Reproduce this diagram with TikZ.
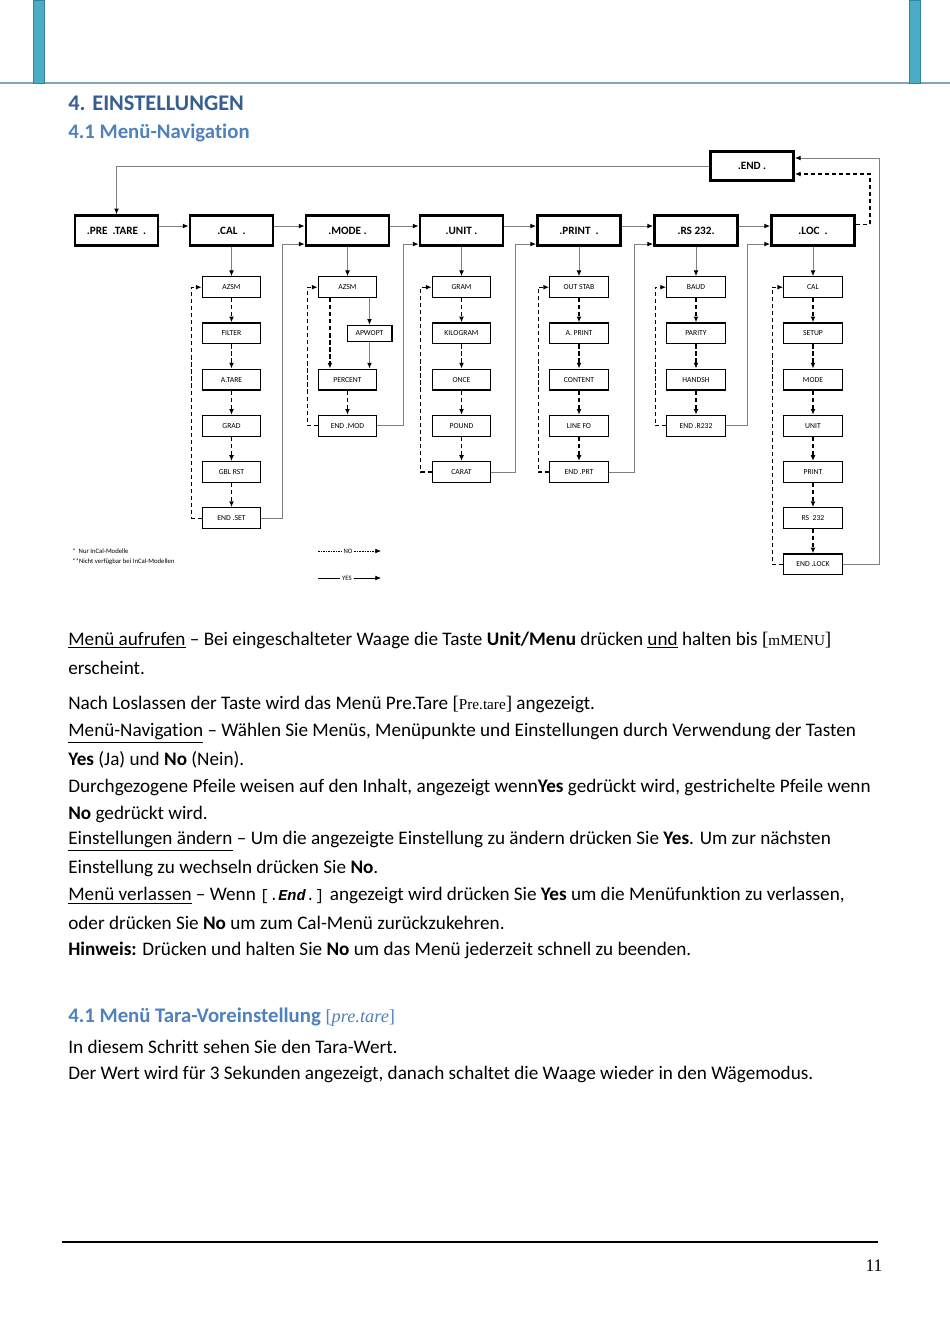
\documentclass[tikz,border=0pt]{standalone}
\usepackage{fontspec}
\setmainfont{Carlito}[Ligatures={TeX,NoCommon}]
\newfontfamily\anzeigefont{Liberation Serif}
\newfontfamily\lcdfont{Liberation Mono}
\usetikzlibrary{arrows.meta,positioning}
\definecolor{titelblau}{HTML}{365F91}
\definecolor{unterblau}{HTML}{4F81BD}
\definecolor{balken}{HTML}{4BACC6}
\definecolor{balkenrand}{HTML}{31849B}
\definecolor{kopflinie}{HTML}{7FA6BA}

\begin{document}
\begin{tikzpicture}[x=0.626pt, y=-0.626pt, >={Latex[length=3.6pt,width=3pt,color=black]},
    hauptbox/.style={draw, line width=1.7pt, minimum width=52pt, minimum height=18.5pt, inner sep=0pt, font=\fontsize{7}{8}\selectfont\bfseries},
    unterbox/.style={draw, line width=0.8pt, minimum width=36.5pt, minimum height=13pt, inner sep=0pt, font=\fontsize{4.8}{5}\selectfont},
    ja/.style={->, draw=black!50, line width=0.6pt},
    nein/.style={->, line width=0.8pt, dash pattern=on 2.6pt off 1.8pt},
    zeile/.style={anchor=west, inner sep=0pt, font=\fontsize{12}{14}\selectfont},
    klein/.style={anchor=west, inner sep=0pt, font=\fontsize{4.2}{5}\selectfont}]
    \useasboundingbox (0,0) rectangle (950,1344);

    % Kopfzeile
    \draw[kopflinie, line width=1.2pt] (0,83) -- (950,83);
    \draw[balkenrand, fill=balken, line width=0.6pt] (33,0) rectangle (44,83);
    \draw[balkenrand, fill=balken, line width=0.6pt] (909,0) rectangle (920,83);

    % Titel
    \node[anchor=west, inner sep=0pt, font=\fontsize{14}{16}\selectfont\bfseries, text=titelblau] (titel) at (68,103) {4. EINSTELLUNGEN};
    \node[anchor=west, inner sep=0pt, font=\fontsize{13}{15}\selectfont\bfseries, text=unterblau] (navi) at (68,133) {4.1 Menü-Navigation};

    % Hauptmenüs
    \node[hauptbox] (pretare) at (116.5,230.5) {.PRE\ \ .TARE\ \ .};
    \node[hauptbox] (cal) at (231.5,230.5) {.CAL\ \ .};
    \node[hauptbox] (mode) at (347.5,230.5) {.MODE .};
    \node[hauptbox] (unit) at (461.5,230.5) {.UNIT .};
    \node[hauptbox] (print) at (579,230.5) {.PRINT\ \ .};
    \node[hauptbox] (rs) at (696,230.5) {.RS 232.};
    \node[hauptbox] (loc) at (813,230.5) {.LOC\ \ .};
    \node[hauptbox] (ende) at (752,166) {.END .};

    % Untermenüs
    \foreach \t [count=\i] in {AZSM,FILTER,A.TARE,GRAD,GBL RST,END .SET}
        \node[unterbox] (cal\i) at (231.5,{241+46.2*\i}) {\t};
    \node[unterbox] (mode1) at (347.5,287.2) {AZSM};
    \node[unterbox, minimum width=28pt, minimum height=10pt] (mode2) at (369.5,333.4) {APWOPT};
    \node[unterbox] (mode3) at (347.5,379.6) {PERCENT};
    \node[unterbox] (mode4) at (347.5,425.8) {END .MOD};
    \foreach \t [count=\i] in {GRAM,KILOGRAM,ONCE,POUND,CARAT}
        \node[unterbox] (unit\i) at (461.5,{241+46.2*\i}) {\t};
    \foreach \t [count=\i] in {OUT STAB,A. PRINT,CONTENT,LINE FO,END .PRT}
        \node[unterbox] (print\i) at (579,{241+46.2*\i}) {\t};
    \foreach \t [count=\i] in {BAUD,PARITY,HANDSH,END .R232}
        \node[unterbox] (rs\i) at (696,{241+46.2*\i}) {\t};
    \foreach \t [count=\i] in {CAL,SETUP,MODE,UNIT,PRINT,RS\ \ 232,END .LOCK}
        \node[unterbox] (loc\i) at (813,{241+46.2*\i}) {\t};

    % Pfeile zwischen den Hauptmenüs (YES)
    \draw[ja] ([yshift=2.8pt]pretare.east) -- ([yshift=2.8pt]cal.west);
    \draw[ja] ([yshift=2.8pt]cal.east) -- ([yshift=2.8pt]mode.west);
    \draw[ja] ([yshift=2.8pt]mode.east) -- ([yshift=2.8pt]unit.west);
    \draw[ja] ([yshift=2.8pt]unit.east) -- ([yshift=2.8pt]print.west);
    \draw[ja] ([yshift=2.8pt]print.east) -- ([yshift=2.8pt]rs.west);
    \draw[ja] ([yshift=2.8pt]rs.east) -- ([yshift=2.8pt]loc.west);
    \draw[ja] (ende.west) -| (pretare.north);

    % Pfeile nach unten in die Untermenüs
    \foreach \m in {cal,mode,unit,print,rs,loc}
        \draw[ja] (\m) -- (\m1);

    % NO-Ketten
    \foreach \i [remember=\i as \j (initially 1)] in {2,...,6}
        \draw[nein] (cal\j) -- (cal\i);
    \foreach \i [remember=\i as \j (initially 1)] in {2,...,5}
        \draw[nein] (unit\j) -- (unit\i);
    \foreach \i [remember=\i as \j (initially 1)] in {2,...,5}
        \draw[nein] (print\j) -- (print\i);
    \foreach \i [remember=\i as \j (initially 1)] in {2,...,4}
        \draw[nein] (rs\j) -- (rs\i);
    \foreach \i [remember=\i as \j (initially 1)] in {2,...,7}
        \draw[nein] (loc\j) -- (loc\i);
    \draw[ja] (mode2.north |- mode1.south) -- (mode2.north);
    \draw[ja] (mode2.south) -- (mode2.south |- mode3.north);
    \draw[nein] ([xshift=-11pt]mode1.south) -- ([xshift=-11pt]mode3.north);
    \draw[nein] (mode3) -- (mode4);

    % Rücksprung (NO) zum ersten Punkt
    \draw[nein] (cal6.west) -- ++(-10,0) |- (cal1.west);
    \draw[nein] (mode4.west) -- ++(-10,0) |- (mode1.west);
    \draw[nein] (unit5.west) -- ++(-11,0) |- (unit1.west);
    \draw[nein] (print5.west) -- ++(-11,0) |- (print1.west);
    \draw[nein] (rs4.west) -- ++(-11,0) |- (rs1.west);
    \draw[nein] (loc7.west) -- ++(-11,0) |- (loc1.west);

    % Weiter (YES) zum nächsten Hauptmenü
    \draw[ja] (cal6.east) -- ++(21,0) |- ([yshift=1.6pt]mode.south west);
    \draw[ja] (mode4.east) -- ++(26,0) |- ([yshift=1.6pt]unit.south west);
    \draw[ja] (unit5.east) -- ++(24,0) |- ([yshift=1.6pt]print.south west);
    \draw[ja] (print5.east) -- ++(26,0) |- ([yshift=1.6pt]rs.south west);
    \draw[ja] (rs4.east) -- ++(22,0) |- ([yshift=1.6pt]loc.south west);
    \draw[ja] (loc7.east) -- ++(37,0) |- ([yshift=5pt]ende.east);
    \draw[nein] ([yshift=3.8pt]loc.east) -- ++(14,0) |- ([yshift=-5pt]ende.east);

    % Legende
    \node[klein] (stern1) at (72,551) {*\ \ Nur InCal-Modelle};
    \node[klein] (stern2) at (72,562) {**Nicht verfügbar bei InCal-Modellen};
    \node[inner sep=1pt, font=\fontsize{4.2}{5}\selectfont] (nolab) at (348,551) {NO};
    \node[inner sep=1pt, font=\fontsize{4.2}{5}\selectfont] (yeslab) at (347,578) {YES};
    \coordinate (no0) at (318,551);
    \coordinate (no1) at (381,551);
    \coordinate (yes0) at (318,578);
    \coordinate (yes1) at (381,578);
    \draw[line width=0.4pt, dash pattern=on 1pt off 0.6pt] (no0) -- (nolab.west);
    \draw[->, line width=0.4pt, dash pattern=on 1pt off 0.6pt] (nolab.east) -- (no1);
    \draw[line width=0.4pt] (yes0) -- (yeslab.west);
    \draw[->, line width=0.4pt] (yeslab.east) -- (yes1);

    % Text
    \node[zeile] (z1) at (68,640) {\underline{Menü aufrufen} – Bei eingeschalteter Waage die Taste \textbf{Unit/Menu} drücken \underline{und} halten bis {\anzeigefont [{\fontsize{9.5}{11}\selectfont mMENU}]}};
    \node[zeile] (z2) at (68,668) {erscheint.};
    \node[zeile] (z3) at (68,704) {Nach Loslassen der Taste wird das Menü Pre.Tare {\anzeigefont [{\fontsize{9.5}{11}\selectfont Pre.tare}]} angezeigt.};
    \node[zeile] (z4) at (68,733) {\underline{Menü-Navigation} – Wählen Sie Menüs, Menüpunkte und Einstellungen durch Verwendung der Tasten};
    \node[zeile] (z5) at (68,760) {\textbf{Yes} (Ja) und \textbf{No} (Nein).};
    \node[zeile] (z6) at (68,787) {Durchgezogene Pfeile weisen auf den Inhalt, angezeigt wenn\textbf{Yes} gedrückt wird, gestrichelte Pfeile wenn};
    \node[zeile] (z7) at (68,814) {\textbf{No} gedrückt wird.};
    \node[zeile] (z8) at (68,841) {\underline{Einstellungen ändern} – Um die angezeigte Einstellung zu ändern drücken Sie \textbf{Yes}. Um zur nächsten};
    \node[zeile] (z9) at (68,868) {Einstellung zu wechseln drücken Sie \textbf{No}.};
    \node[zeile] (z10) at (68,896) {\underline{Menü verlassen} – Wenn {\lcdfont\fontsize{9.5}{11}\selectfont[.\textbf{\textit{End}}.]} angezeigt wird drücken Sie \textbf{Yes} um die Menüfunktion zu verlassen,};
    \node[zeile] (z11) at (68,923) {oder drücken Sie \textbf{No} um zum Cal-Menü zurückzukehren.};
    \node[zeile] (z12) at (68,950) {\textbf{Hinweis:} Drücken und halten Sie \textbf{No} um das Menü jederzeit schnell zu beenden.};

    \node[anchor=west, inner sep=0pt, font=\fontsize{13}{15}\selectfont\bfseries, text=unterblau] (tara) at (68,1017) {4.1 Menü Tara-Voreinstellung {\anzeigefont\mdseries\fontsize{11.5}{13}\selectfont [\textit{pre.tare}]}};
    \node[zeile] (z13) at (68,1047) {In diesem Schritt sehen Sie den Tara-Wert.};
    \node[zeile] (z14) at (68,1074) {Der Wert wird für 3 Sekunden angezeigt, danach schaltet die Waage wieder in den Wägemodus.};

    % Fußzeile
    \draw[line width=1.3pt] (62,1242) -- (878,1242);
    \node[font=\anzeigefont\fontsize{11}{13}\selectfont] (seite) at (874,1266) {11};
\end{tikzpicture}
\end{document}
